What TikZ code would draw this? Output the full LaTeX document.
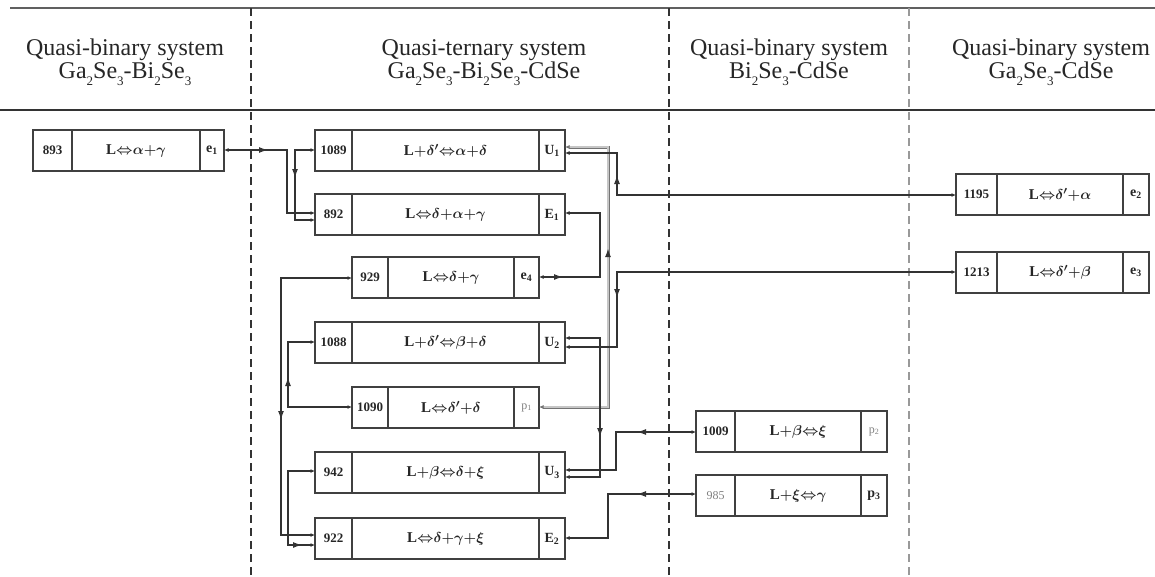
\documentclass[tikz,border=0pt]{standalone}
\usepackage{fontspec}
\setmainfont{Liberation Serif}
\usetikzlibrary{arrows.meta,decorations.markings}
\definecolor{ink}{HTML}{262626}
\definecolor{linec}{HTML}{333333}
\definecolor{boxc}{HTML}{404040}
\newcommand\mynum[1]{{\bfseries\fontsize{13}{13}\selectfont #1}}
\newcommand\myrx[1]{{\bfseries\boldmath\fontsize{15}{15}\selectfont #1}}
\newcommand\mylab[1]{{\bfseries\fontsize{14}{14}\selectfont #1}}
\newcommand\mygray[1]{{\fontsize{12}{12}\selectfont #1}}
\newcommand\myhead{\fontsize{24}{23}\selectfont}
\newcommand\hsub[1]{\raisebox{-0.3em}{\fontsize{13}{13}\selectfont #1}}
\newcommand\dpr{\delta^{\prime}}
\newcommand\eq{{\Leftrightarrow}}
\begin{document}
\begin{tikzpicture}[x=1pt,y=-1pt,
  cellbox/.style={draw=boxc, line width=1.3pt, inner sep=0pt, outer sep=0pt,
    minimum height=41pt, anchor=north west, text=ink, fill=white},
  conn/.style={draw=linec, line width=1.3pt, >={Latex[length=4.5pt,width=4pt]}, <->},
  grayconn/.style={conn, draw=gray!90!black, line width=0.8pt, double=gray!45, double distance=1.4pt},
  midarr/.style={postaction={decorate}, decoration={markings,
    mark=at position #1 with {\arrow[linec]{Latex[length=9pt,width=6pt]}}}},
  head/.style={anchor=base, text=ink, inner sep=0pt, font=\myhead},
  sep/.style={draw=linec, line width=1.2pt, dash pattern=on 8pt off 5pt}
]
\useasboundingbox (0,0) rectangle (1155,576);
% frame
\draw[line width=2.4pt, draw=gray!75!black] (10,8) -- (1155,8);
\draw[line width=1.3pt, draw=linec] (0,110) -- (1155,110);
\draw[sep] (251,8) -- (251,576);
\draw[sep] (669,8) -- (669,576);
\draw[sep, draw=gray!80, line width=2pt] (909,8) -- (909,576);
% headers
\node[head] (h1a) at (125,55) {Quasi-binary system};
\node[head] (h1b) at (125,78) {Ga\hsub{2}Se\hsub{3}-Bi\hsub{2}Se\hsub{3}};
\node[head] (h2a) at (484,55) {Quasi-ternary system};
\node[head] (h2b) at (484,78) {Ga\hsub{2}Se\hsub{3}-Bi\hsub{2}Se\hsub{3}-CdSe};
\node[head] (h3a) at (789,55) {Quasi-binary system};
\node[head] (h3b) at (789,78) {Bi\hsub{2}Se\hsub{3}-CdSe};
\node[head] (h4a) at (1051,55) {Quasi-binary system};
\node[head] (h4b) at (1051,78) {Ga\hsub{2}Se\hsub{3}-CdSe};
% boxes: e1
\node[cellbox, minimum width=39pt] (ne1) at (33,130) {\mynum{893}};
\node[cellbox, minimum width=128pt] (re1) at (ne1.north east) {\myrx{L$\eq\alpha{+}\gamma$}};
\node[cellbox, minimum width=24pt] (le1) at (re1.north east) {\mylab{e\textsubscript{1}}};
% U1
\node[cellbox, minimum width=37pt] (nU1) at (315,130) {\mynum{1089}};
\node[cellbox, minimum width=187pt] (rU1) at (nU1.north east) {\myrx{L${+}\dpr\eq\alpha{+}\delta$}};
\node[cellbox, minimum width=26pt] (lU1) at (rU1.north east) {\mylab{U\textsubscript{1}}};
% E1
\node[cellbox, minimum width=37pt] (nE1) at (315,194) {\mynum{892}};
\node[cellbox, minimum width=187pt] (rE1) at (nE1.north east) {\myrx{L$\eq\delta{+}\alpha{+}\gamma$}};
\node[cellbox, minimum width=26pt] (lE1) at (rE1.north east) {\mylab{E\textsubscript{1}}};
% e4
\node[cellbox, minimum width=36pt] (ne4) at (352,257) {\mynum{929}};
\node[cellbox, minimum width=126pt] (re4) at (ne4.north east) {\myrx{L$\eq\delta{+}\gamma$}};
\node[cellbox, minimum width=25pt] (le4) at (re4.north east) {\mylab{e\textsubscript{4}}};
% U2
\node[cellbox, minimum width=37pt] (nU2) at (315,322) {\mynum{1088}};
\node[cellbox, minimum width=187pt] (rU2) at (nU2.north east) {\myrx{L${+}\dpr\eq\beta{+}\delta$}};
\node[cellbox, minimum width=26pt] (lU2) at (rU2.north east) {\mylab{U\textsubscript{2}}};
% p1
\node[cellbox, minimum width=36pt] (np1) at (352,387) {\mynum{1090}};
\node[cellbox, minimum width=126pt] (rp1) at (np1.north east) {\myrx{L$\eq\dpr{+}\delta$}};
\node[cellbox, minimum width=25pt, text=gray] (lp1) at (rp1.north east) {\mygray{p\textsubscript{1}}};
% U3
\node[cellbox, minimum width=37pt] (nU3) at (315,452) {\mynum{942}};
\node[cellbox, minimum width=187pt] (rU3) at (nU3.north east) {\myrx{L${+}\beta\eq\delta{+}\xi$}};
\node[cellbox, minimum width=26pt] (lU3) at (rU3.north east) {\mylab{U\textsubscript{3}}};
% E2
\node[cellbox, minimum width=37pt] (nE2) at (315,518) {\mynum{922}};
\node[cellbox, minimum width=187pt] (rE2) at (nE2.north east) {\myrx{L$\eq\delta{+}\gamma{+}\xi$}};
\node[cellbox, minimum width=26pt] (lE2) at (rE2.north east) {\mylab{E\textsubscript{2}}};
% e2
\node[cellbox, minimum width=41pt] (ne2) at (956,174) {\mynum{1195}};
\node[cellbox, minimum width=126pt] (re2) at (ne2.north east) {\myrx{L$\eq\dpr{+}\alpha$}};
\node[cellbox, minimum width=26pt] (le2) at (re2.north east) {\mylab{e\textsubscript{2}}};
% e3
\node[cellbox, minimum width=41pt] (ne3) at (956,252) {\mynum{1213}};
\node[cellbox, minimum width=126pt] (re3) at (ne3.north east) {\myrx{L$\eq\dpr{+}\beta$}};
\node[cellbox, minimum width=26pt] (le3) at (re3.north east) {\mylab{e\textsubscript{3}}};
% p2
\node[cellbox, minimum width=39pt] (np2) at (696,411) {\mynum{1009}};
\node[cellbox, minimum width=126pt] (rp2) at (np2.north east) {\myrx{L${+}\beta\eq\xi$}};
\node[cellbox, minimum width=26pt, text=gray] (lp2) at (rp2.north east) {\mygray{p\textsubscript{2}}};
% p3
\node[cellbox, minimum width=39pt, text=gray] (np3) at (696,475) {\mygray{985}};
\node[cellbox, minimum width=126pt] (rp3) at (np3.north east) {\myrx{L${+}\xi\eq\gamma$}};
\node[cellbox, minimum width=26pt] (lp3) at (rp3.north east) {\mylab{p\textsubscript{3}}};
% connectors
\draw[conn, midarr=44pt] (le1.east |- 0,150) -- (287,150) -- (287,213) -- (nE1.west |- 0,213);
\draw[conn, midarr=48pt] (nU1.west |- 0,150) -- (295,150) -- (295,220) -- (nE1.west |- 0,220);
\draw[grayconn, midarr=228pt] (lp1.east |- 0,407) -- (608,407) -- (608,147) -- (lU1.east |- 0,147);
\draw[conn, midarr=359pt] (ne2.west |- 0,195) -- (617,195) -- (617,153) -- (lU1.east |- 0,153);
\draw[conn, midarr=24pt] (le4.east |- 0,277) -- (600,277) -- (600,213) -- (lE1.east |- 0,213);
\draw[conn, midarr=365pt] (ne3.west |- 0,272) -- (617,272) -- (617,347) -- (lU2.east |- 0,347);
\draw[conn, midarr=134pt] (lU2.east |- 0,338) -- (600,338) -- (600,477) -- (lU3.east |- 0,477);
\draw[conn, midarr=59pt] (np2.west |- 0,432) -- (616,432) -- (616,470) -- (lU3.east |- 0,470);
\draw[conn, midarr=59pt] (np3.west |- 0,494) -- (608,494) -- (608,538) -- (lE2.east |- 0,538);
\draw[conn, midarr=213pt] (ne4.west |- 0,278) -- (281,278) -- (281,535) -- (nE2.west |- 0,535);
\draw[conn, midarr=94pt] (np1.west |- 0,407) -- (288,407) -- (288,342) -- (nU2.west |- 0,342);
\draw[conn, midarr=115pt] (nU3.west |- 0,471) -- (288,471) -- (288,545) -- (nE2.west |- 0,545);
\end{tikzpicture}
\end{document}
